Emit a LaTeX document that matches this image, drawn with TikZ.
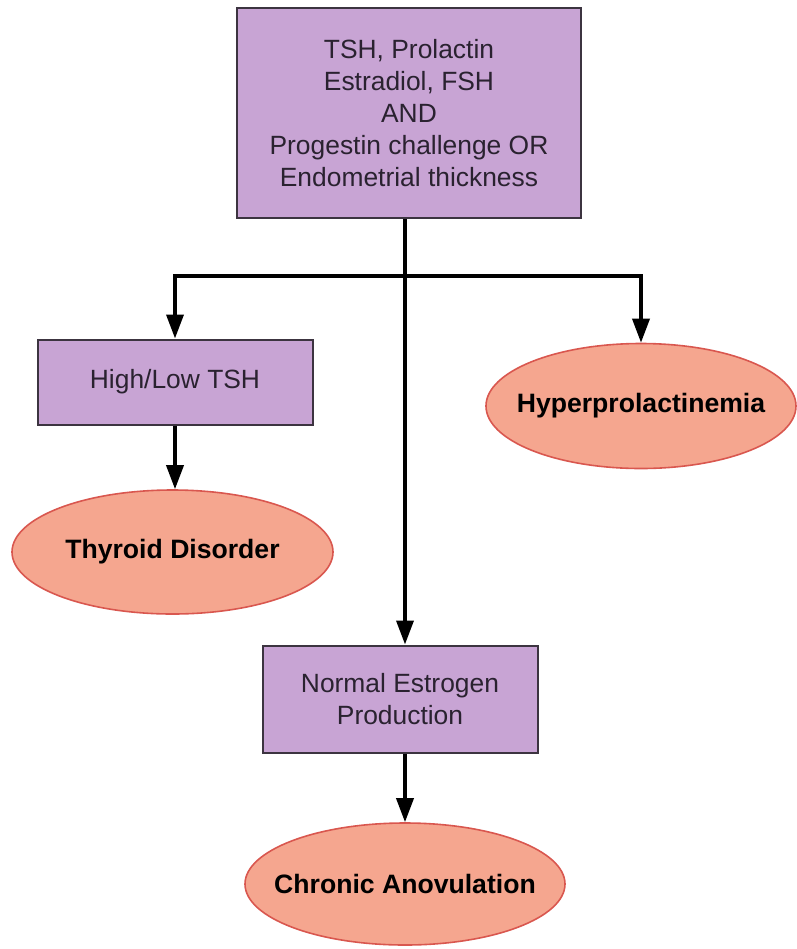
\documentclass[tikz,border=0pt]{standalone}
\usepackage{fontspec}
\setmainfont{Liberation Sans}
\usepackage{xcolor}
\usepackage{tikz}
\usetikzlibrary{arrows.meta,positioning,shapes.geometric}
\definecolor{ink}{HTML}{2A2230}
\definecolor{boxline}{HTML}{3C3440}
\definecolor{lilac}{HTML}{C8A4D4}
\definecolor{salmon}{HTML}{F5A68F}
\definecolor{redline}{HTML}{D9574F}
\tikzset{
  lab/.style={rectangle, draw=boxline, line width=1pt, fill=lilac, align=center, text=ink, font=\fontsize{13.2}{16}\selectfont},
  dx/.style={ellipse, draw=redline, line width=0.8pt, fill=salmon, inner sep=0pt, text=black, font=\fontsize{13.3}{16}\selectfont\bfseries},
  arrow/.style={-{Triangle[length=12pt, width=8.5pt]}, line width=1.8pt, black},
  plain/.style={line width=1.8pt, black}
}
\begin{document}
\begin{tikzpicture}[x=0.5pt, y=-0.5pt]
  \useasboundingbox (0,0) rectangle (797,949);
  \node[lab, minimum width=172pt, minimum height=105pt] (tests) at (409,113)
    {TSH, Prolactin\\Estradiol, FSH\\AND\\Progestin challenge OR\\Endometrial thickness};
  \node[lab, minimum width=137.5pt, minimum height=42.5pt] (tsh) at (175,382) {High/Low TSH};
  \node[dx, minimum width=160.5pt, minimum height=62pt] (thyroid) at (172.5,552) {\makebox[0pt]{Thyroid Disorder}};
  \node[dx, minimum width=155pt, minimum height=62.5pt] (hyper) at (641,406) {\makebox[0pt]{Hyperprolactinemia}};
  \node[lab, minimum width=137.5pt, minimum height=53.5pt] (normal) at (400,699) {Normal Estrogen\\Production};
  \node[dx, minimum width=160pt, minimum height=61pt] (chronic) at (405,884) {\makebox[0pt]{Chronic Anovulation}};
  \coordinate (split) at (405,276);
  \draw[plain] (tests.south -| split) -- (split);
  \draw[arrow] (split) -| (tsh);
  \draw[arrow] (split) -| (hyper);
  \draw[arrow] (split) -- (split |- normal.north);
  \draw[arrow] (tsh) -- (tsh |- thyroid.north);
  \draw[arrow] (normal.south -| chronic) -- (chronic);
\end{tikzpicture}
\end{document}
